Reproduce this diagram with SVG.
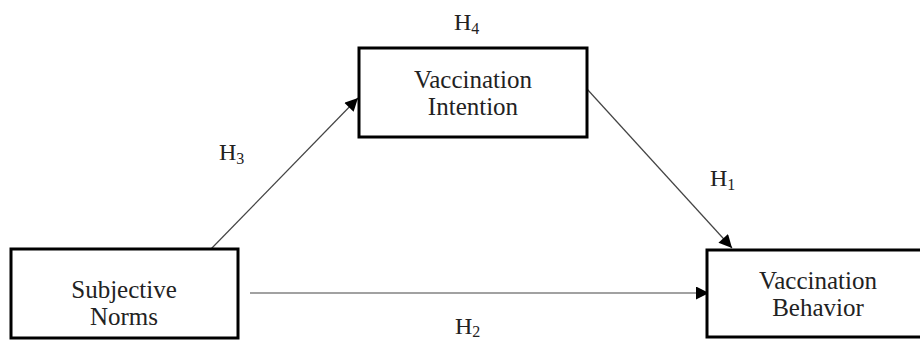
<svg xmlns="http://www.w3.org/2000/svg" width="920" height="340" viewBox="0 0 920 340">
<style>
.box{fill:#fff;stroke:#000;stroke-width:3}
.t{font-family:"Liberation Serif","Times New Roman",serif;font-size:25px;fill:#222;text-anchor:middle}
.h{font-family:"Liberation Serif","Times New Roman",serif;font-size:24px;fill:#222}
.s{font-size:16px}
.c{stroke:#444;stroke-width:1.2;fill:none;marker-end:url(#arr)}
</style>
<defs>
<marker id="arr" viewBox="0 0 10 10" refX="10" refY="5" markerWidth="16" markerHeight="13" markerUnits="userSpaceOnUse" orient="auto">
<path d="M0,0 L10,5 L0,10 Z" fill="#000"/>
</marker>
</defs>
<rect width="920" height="340" fill="#fff"/>
<g id="connectors">
<line class="c" x1="211" y1="249" x2="358" y2="98"/>
<line class="c" x1="587" y1="89" x2="732" y2="248"/>
<line class="c" x1="250" y1="293" x2="709" y2="293"/>
</g>
<g id="intention">
<rect class="box" x="359" y="48" width="228" height="89"/>
<text class="t" x="473" y="88">Vaccination</text>
<text class="t" x="473" y="115">Intention</text>
</g>
<g id="norms">
<rect class="box" x="11" y="249" width="227" height="89"/>
<text class="t" x="124" y="298">Subjective</text>
<text class="t" x="124" y="325">Norms</text>
</g>
<g id="behavior">
<rect class="box" x="707" y="250" width="230" height="87"/>
<text class="t" x="818" y="289">Vaccination</text>
<text class="t" x="818" y="316">Behavior</text>
</g>
<g id="labels">
<text class="h" x="454" y="30">H<tspan class="s" dy="4">4</tspan></text>
<text class="h" x="219" y="160">H<tspan class="s" dy="4">3</tspan></text>
<text class="h" x="710" y="186">H<tspan class="s" dy="4">1</tspan></text>
<text class="h" x="455" y="334">H<tspan class="s" dy="3">2</tspan></text>
</g>
</svg>
